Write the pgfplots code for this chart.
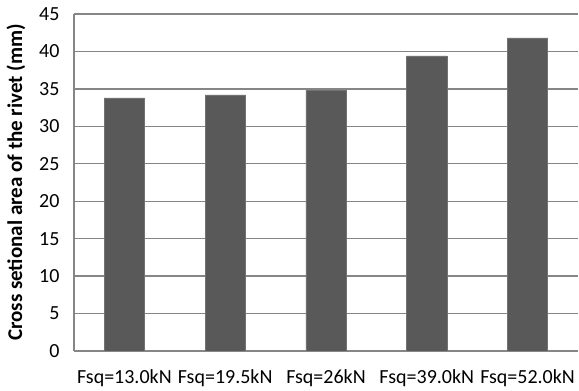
\documentclass[border=0pt]{standalone}
\usepackage{pgfplots}
\pgfplotsset{compat=1.18}
\usepackage{fontspec}
\setmainfont{Carlito}
\definecolor{barfill}{HTML}{595959}
\definecolor{gridgray}{HTML}{868686}
\begin{document}
\begin{tikzpicture}[x=1pt,y=1pt]
\begin{axis}[
  scale only axis,
  width=504pt, height=337pt,
  xmin=-0.5, xmax=4.5,
  ymin=0, ymax=45,
  ytick={0,5,...,45},
  xtick={0,1,2,3,4},
  xticklabels={Fsq=13.0kN,Fsq=19.5kN,Fsq=26kN,Fsq=39.0kN,Fsq=52.0kN},
  major tick length=0pt,
  ymajorgrids,
  grid style={gridgray, line width=1.3pt},
  axis line style={gridgray, line width=1.3pt},
  axis x line*=bottom,
  axis y line*=left,
  separate axis lines,
  tick label style={font=\fontsize{20}{22}\selectfont},
  /pgf/number format/assume math mode=true,
  yticklabel style={xshift=-11pt},
  xticklabel style={yshift=-15pt},
  ylabel={\bfseries Cross setional area of the rivet (mm)},
  ylabel style={font=\fontsize{21}{24}\selectfont, yshift=7pt},
]
\addplot[ybar, bar width=0.4, fill=barfill, draw=barfill!85!white, line width=0.6pt]
  coordinates {(0,33.8) (1,34.2) (2,34.8) (3,39.4) (4,41.8)};
% top frame line of the plot area
\draw[gridgray, line width=1.3pt] (rel axis cs:0,1) -- (rel axis cs:1,1);
\end{axis}
\pgfresetboundingbox
\path[use as bounding box] ([shift={(-74pt,-40pt)}]current axis.south west) rectangle ++(579pt,391pt);
\end{tikzpicture}
\end{document}
